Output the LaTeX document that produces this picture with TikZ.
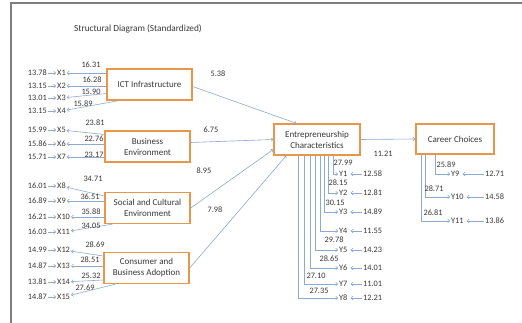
\documentclass[tikz,border=0pt]{standalone}
\usepackage{fontspec}
\setmainfont{Carlito}
\usetikzlibrary{arrows.meta}
\definecolor{boxorange}{HTML}{E8964A}
\definecolor{linkblue}{HTML}{8EAAD0}
\definecolor{txtgray}{HTML}{383838}
\definecolor{framegray}{HTML}{7F7F7F}

\begin{document}
\begin{tikzpicture}[x=1pt,y=-1pt,
    construct/.style={draw=boxorange,line width=1.4pt,fill=white,minimum height=31pt,align=center,inner sep=2pt,text=txtgray,font=\fontsize{9}{11}\selectfont},
    ind/.style={inner sep=1pt,text=txtgray,font=\fontsize{8.3}{9}\selectfont},
    coef/.style={inner sep=0pt,text=txtgray,font=\fontsize{8.3}{9}\selectfont},
    link/.style={draw=linkblue,line width=0.6pt,-{To[length=2.5pt,width=4pt]}}]
        \fill[white] (0,0) rectangle (522,323);
        \useasboundingbox (0,0) rectangle (522,323);
        \draw[framegray,line width=2pt] (11,323) -- (11,3) -- (522,3);
        \node[text=txtgray,font=\fontsize{9.3}{10}\selectfont] (title) at (138,29) {Structural Diagram (Standardized)};

        % latent constructs
        \node[construct,minimum width=85pt](ict)at(149.5,84.5){ICT Infrastructure};
        \node[construct,minimum width=85pt](business)at(147.5,146.5){Business\\Environment};
        \node[construct,minimum width=85pt](social)at(147.5,208){Social and Cultural\\Environment};
        \node[construct,minimum width=85pt](consumer)at(146.5,268){Consumer and\\Business Adoption};
        \node[construct,minimum width=86pt](ec)at(317,139.5){Entrepreneurship\\Characteristics};
        \node[construct,minimum width=78pt,minimum height=30pt](cc)at(455,139){Career Choices};

        % structural paths
        \draw[link] ([yshift=-2]ict.east) -- ([xshift=23]ec.north west);
        \node[coef] (p1) at (218,74) {5.38};
        \draw[link] ([yshift=4]business.east) -- (ec.west);
        \node[coef] (p2) at (211,130) {6.75};
        \draw[link] (social.east) -- ([yshift=-10]ec.west);
        \node[coef] (p3) at (204,171) {8.95};
        \draw[link] (consumer.east) -- ([xshift=13]ec.south west);
        \node[coef] (p4) at (215,210) {7.98};
        \draw[link] (ec.east) -- (cc.west);
        \node[coef] (p5) at (383,154) {11.21};

        % ICT Infrastructure indicators
        \node[ind,anchor=east](e1)at(48,73){13.78};
        \node[ind,anchor=west](x1)at(56,73){X1};
        \draw[link] (e1) -- (x1);
        \draw[link] (ict.west |- x1) -- (x1);
        \node[coef](l1)at(91,65){16.31};
        \node[ind,anchor=east](e2)at(48,86){13.15};
        \node[ind,anchor=west](x2)at(56,86){X2};
        \draw[link] (e2) -- (x2);
        \draw[link] (ict.west |- x2) -- (x2);
        \node[coef](l2)at(92,80){16.28};
        \node[ind,anchor=east](e3)at(48,98){13.01};
        \node[ind,anchor=west](x3)at(56,98){X3};
        \draw[link] (e3) -- (x3);
        \draw[link] ([yshift=-9]ict.west) -- (x3);
        \node[coef](l3)at(91,92){15.90};
        \node[ind,anchor=east](e4)at(48,111){13.15};
        \node[ind,anchor=west](x4)at(56,111){X4};
        \draw[link] (e4) -- (x4);
        \draw[link] ([xshift=12]ict.south west) -- (x4);
        \node[coef](l4)at(83,104){15.89};

        % Business Environment indicators
        \node[ind,anchor=east](e5)at(48,130){15.99};
        \node[ind,anchor=west](x5)at(56,130){X5};
        \draw[link] (e5) -- (x5);
        \draw[link] ([yshift=12]business.west) -- (x5);
        \node[coef](l5)at(95,123){23.81};
        \node[ind,anchor=east](e6)at(48,144){15.86};
        \node[ind,anchor=west](x6)at(56,144){X6};
        \draw[link] (e6) -- (x6);
        \draw[link] (business.west |- x6) -- (x6);
        \node[coef](l6)at(94,139){22.76};
        \node[ind,anchor=east](e7)at(48,157){15.71};
        \node[ind,anchor=west](x7)at(56,157){X7};
        \draw[link] (e7) -- (x7);
        \draw[link] (business.west |- x7) -- (x7);
        \node[coef](l7)at(94,155){23.17};

        % Social and Cultural Environment indicators
        \node[ind,anchor=east](e8)at(48,186){16.01};
        \node[ind,anchor=west](x8)at(56,186){X8};
        \draw[link] (e8) -- (x8);
        \draw[link] ([yshift=12]social.west) -- (x8);
        \node[coef](l8)at(93,179){34.71};
        \node[ind,anchor=east](e9)at(48,201){16.89};
        \node[ind,anchor=west](x9)at(56,201){X9};
        \draw[link] (e9) -- (x9);
        \draw[link] (social.west |- x9) -- (x9);
        \node[coef](l9)at(90,197){36.51};
        \node[ind,anchor=east](e10)at(48,217){16.21};
        \node[ind,anchor=west](x10)at(56,217){X10};
        \draw[link] (e10) -- (x10);
        \draw[link] (social.west |- x10) -- (x10);
        \node[coef](l10)at(91,212){35.88};
        \node[ind,anchor=east](e11)at(48,232){16.03};
        \node[ind,anchor=west](x11)at(56,232){X11};
        \draw[link] (e11) -- (x11);
        \draw[link] ([xshift=8]social.south west) -- (x11);
        \node[coef](l11)at(91,226){34.05};

        % Consumer and Business Adoption indicators
        \node[ind,anchor=east](e12)at(48,250){14.99};
        \node[ind,anchor=west](x12)at(56,250){X12};
        \draw[link] (e12) -- (x12);
        \draw[link] ([yshift=12]consumer.west) -- (x12);
        \node[coef](l12)at(95,245){28.69};
        \node[ind,anchor=east](e13)at(48,266){14.87};
        \node[ind,anchor=west](x13)at(56,266){X13};
        \draw[link] (e13) -- (x13);
        \draw[link] (consumer.west |- x13) -- (x13);
        \node[coef](l13)at(90,260){28.51};
        \node[ind,anchor=east](e14)at(48,282){13.81};
        \node[ind,anchor=west](x14)at(56,282){X14};
        \draw[link] (e14) -- (x14);
        \draw[link] ([yshift=-12]consumer.west) -- (x14);
        \node[coef](l14)at(91,276){25.32};
        \node[ind,anchor=east](e15)at(48,297){14.87};
        \node[ind,anchor=west](x15)at(56,297){X15};
        \draw[link] (e15) -- (x15);
        \draw[link] ([xshift=12]consumer.south west) -- (x15);
        \node[coef](l15)at(85,288){27.69};

        % Entrepreneurship Characteristics indicators
        \node[ind,anchor=west](y1)at(338,174){Y1};
        \node[ind,anchor=west](f1)at(362,174){12.58};
        \draw[link] ([xshift=60]ec.south west) |- (y1);
        \draw[link,shorten >=2pt] (f1) -- (y1);
        \node[coef](m1)at(343,163){27.99};
        \node[ind,anchor=west](y2)at(338,193){Y2};
        \node[ind,anchor=west](f2)at(362,193){12.81};
        \draw[link] ([xshift=55]ec.south west) |- (y2);
        \draw[link,shorten >=2pt] (f2) -- (y2);
        \node[coef](m2)at(338,183){28.15};
        \node[ind,anchor=west](y3)at(338,212){Y3};
        \node[ind,anchor=west](f3)at(362,212){14.89};
        \draw[link] ([xshift=51]ec.south west) |- (y3);
        \draw[link,shorten >=2pt] (f3) -- (y3);
        \node[coef](m3)at(335,203){30.15};
        \node[ind,anchor=west](y4)at(338,231){Y4};
        \node[ind,anchor=west](f4)at(362,231){11.55};
        \draw[link] ([xshift=47]ec.south west) |- (y4);
        \draw[link,shorten >=2pt] (f4) -- (y4);
        \node[ind,anchor=west](y5)at(338,250){Y5};
        \node[ind,anchor=west](f5)at(362,250){14.23};
        \draw[link] ([xshift=42]ec.south west) |- (y5);
        \draw[link,shorten >=2pt] (f5) -- (y5);
        \node[coef](m5)at(334,240){29.78};
        \node[ind,anchor=west](y6)at(338,268){Y6};
        \node[ind,anchor=west](f6)at(362,268){14.01};
        \draw[link] ([xshift=37]ec.south west) |- (y6);
        \draw[link,shorten >=2pt] (f6) -- (y6);
        \node[coef](m6)at(329,259){28.65};
        \node[ind,anchor=west](y7)at(338,284){Y7};
        \node[ind,anchor=west](f7)at(362,284){11.01};
        \draw[link] ([xshift=31]ec.south west) |- (y7);
        \draw[link,shorten >=2pt] (f7) -- (y7);
        \node[coef](m7)at(316,276){27.10};
        \node[ind,anchor=west](y8)at(338,298){Y8};
        \node[ind,anchor=west](f8)at(362,298){12.21};
        \draw[link] ([xshift=25]ec.south west) |- (y8);
        \draw[link,shorten >=2pt] (f8) -- (y8);
        \node[coef](m8)at(319,291){27.35};

        % Career Choices indicators
        \node[ind,anchor=west](y9)at(450,174){Y9};
        \node[ind,anchor=west](f9)at(484,174){12.71};
        \draw[link] ([xshift=20]cc.south west) |- (y9);
        \draw[link,shorten >=2pt] (f9) -- (y9);
        \node[coef](m9)at(446,165){25.89};
        \node[ind,anchor=west](y10)at(450,197){Y10};
        \node[ind,anchor=west](f10)at(484,197){14.58};
        \draw[link] ([xshift=10]cc.south west) |- (y10);
        \draw[link,shorten >=2pt] (f10) -- (y10);
        \node[coef](m10)at(434,189){28.71};
        \node[ind,anchor=west](y11)at(450,221){Y11};
        \node[ind,anchor=west](f11)at(484,221){13.86};
        \draw[link] ([xshift=6]cc.south west) |- (y11);
        \draw[link,shorten >=2pt] (f11) -- (y11);
        \node[coef](m11)at(433,213){26.81};
    \end{tikzpicture}
\end{document}
